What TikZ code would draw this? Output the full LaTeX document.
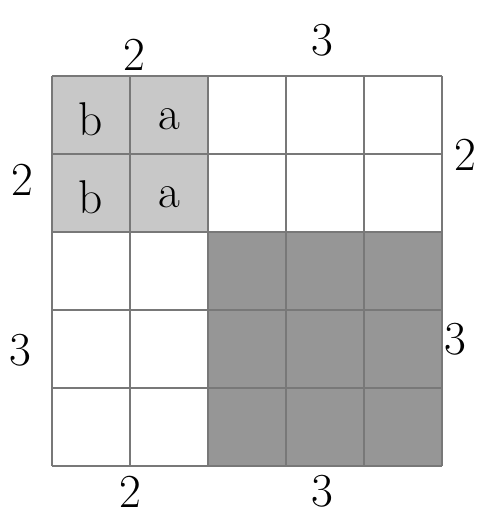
\documentclass[tikz,border=0pt]{standalone}
\usepackage{amsmath}
\usepackage{tikz}
\usetikzlibrary{calc}

\definecolor{lightshade}{RGB}{200,200,200}
\definecolor{darkshade}{RGB}{150,150,150}
\definecolor{gridline}{RGB}{120,120,120}

\tikzset{
  side/.style={font=\LARGE},
  cell/.style={font=\LARGE}
}

\begin{document}
\begin{tikzpicture}[scale=1]

						\useasboundingbox (-0.667, -0.603) rectangle (5.449, 5.974);

						\coordinate(o) at (0, 0);
						\coordinate(p) at (0, 3);
						\coordinate(q) at (2, 5);
						\coordinate(r) at (2, 0);
						\coordinate(s) at (5, 3);

						\fill[lightshade] (p) rectangle (q);
						\fill[darkshade] (r) rectangle (s);
						\draw[gridline, semithick] (o) grid (5, 5);

						\node[cell] (b1) at (0.5, 4.45) {b};
						\node[cell] (a1) at (1.5, 4.45) {a};
						\node[cell] (b2) at (0.5, 3.45) {b};
						\node[cell] (a2) at (1.5, 3.45) {a};

						\node[side] (top2) at (1.06, 5.27) {2};
						\node[side] (top3) at (3.46, 5.46) {3};
						\node[side] (left2) at (-0.38, 3.67) {2};
						\node[side] (right2) at (5.3, 3.99) {2};
						\node[side] (left3) at (-0.41, 1.49) {3};
						\node[side] (right3) at (5.17, 1.62) {3};
						\node[side] (bot2) at (1.0, -0.33) {2};
						\node[side] (bot3) at (3.46, -0.33) {3};

					\end{tikzpicture}
\end{document}
